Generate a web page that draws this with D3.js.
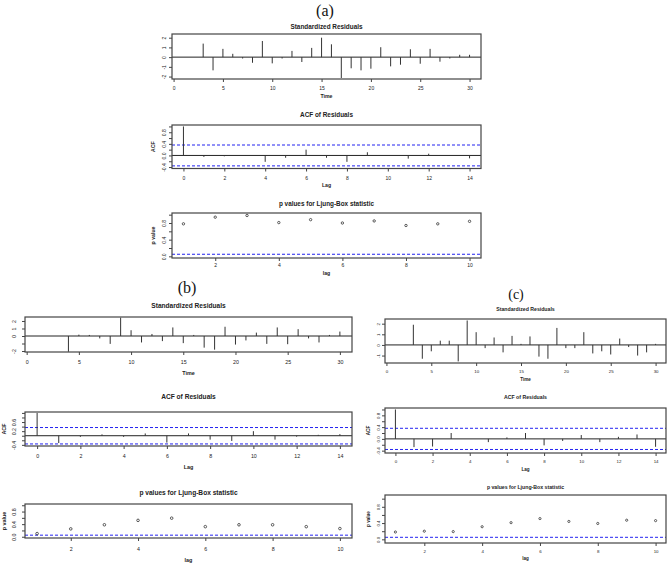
<!DOCTYPE html>
<html lang="en">
<head>
<meta charset="UTF-8">
<title>tsdiag</title>
<script src="https://cdn.jsdelivr.net/npm/d3@7"></script>
<style>
  body { margin: 0; background: #fff; }
  svg { display: block; font-family: "Liberation Sans", Arial, sans-serif; }
</style>
</head>
<body>
<svg id="svg"></svg>
<script>
// standardized residuals, time 1..30
const times = d3.range(1, 31);
const resA = [0, 0, 1.39, -1.36, 0.85, 0.34, -0.14, -0.58, 1.66, -0.64, -0.14, 0.64, -0.5, 0.95, 2.0, 1.32, -2.15, -1.15, -1.36, -1.19, 1.02, -0.95, -0.78, 0.81, -0.68, 0.85, -0.47, -0.14, 0.24, 0.24];
const resB = [0, 0, 0, -2.1, 0.18, 0.14, -0.32, -1.05, 2.45, 0.77, -0.86, 0.27, -0.68, 1.14, -0.95, 0.14, -1.55, -1.82, 1.23, -1.14, -0.59, 0.45, -1.05, 1.14, -1.09, 0.91, -0.32, -0.86, 0.14, 0.59];
const resC = [0, 0, 1.9, -1.3, -0.6, 0.4, 0.4, -1.55, 2.3, 1.2, -0.3, 0.7, -0.7, 0.85, 0.1, 0.8, -1.1, -1.3, 1.6, -0.3, -0.3, 1.2, -0.8, -0.6, -0.9, 0.6, -0.2, -1.0, -0.7, 0.1];

// ACF of residuals, lag 0..14
const lags = d3.range(0, 15);
const acfA = [1, -0.05, -0.03, 0.01, -0.22, -0.08, 0.2, -0.08, -0.22, 0.11, 0.01, -0.11, 0.06, 0.01, -0.1];
const acfB = [1, -0.32, -0.05, 0.06, -0.05, 0.1, -0.3, 0.1, -0.17, -0.23, 0.2, -0.17, -0.04, 0.04, 0.07];
const acfC = [1, -0.28, -0.26, 0.2, 0, -0.11, 0.05, 0.2, -0.22, -0.07, 0.13, -0.11, 0.07, 0.15, -0.27];

// Ljung-Box p values, lag 1..10
const pLags = d3.range(1, 11);
const pA = [0.78, 0.94, 0.98, 0.81, 0.88, 0.80, 0.85, 0.74, 0.78, 0.84];
const pB = [0.1, 0.25, 0.38, 0.52, 0.59, 0.32, 0.38, 0.38, 0.32, 0.26];
const pC = [0.18, 0.2, 0.19, 0.31, 0.41, 0.51, 0.44, 0.39, 0.47, 0.46];

const acfBound = 0.36;
const pBound = 0.05;

const timeTicks = [0, 5, 10, 15, 20, 25, 30];
const acfLagTicks = [0, 2, 4, 6, 8, 10, 12, 14];
const pLagTicks = [2, 4, 6, 8, 10];
const pTicks = [0, 0.2, 0.4, 0.6, 0.8, 1.0];
const pTickLabels = [0, 0.4, 0.8];

const width = 669, height = 578;
const svg = d3.select('#svg').attr('width', width).attr('height', height);

function fmt(f) {
    return d => d3.format(f)(d).replace('\u2212', '-');
}

function drawPlot(c) {
    const [x0, x1, y0, y1] = c.box;
    const x = d3.scaleLinear().domain(c.xDomain).range([x0, x1]);
    const y = d3.scaleLinear().domain(c.yDomain).range([y1, y0]);
    const g = svg.append('g');

    g.append('text')
        .attr('x', (x0 + x1) / 2).attr('y', c.titleY)
        .attr('text-anchor', 'middle').attr('dominant-baseline', 'middle')
        .attr('font-size', c.titleSize).attr('font-weight', 'bold').attr('fill', '#222')
        .text(c.title);

    // reference lines
    if (c.zero) {
        g.append('line').attr('x1', x0).attr('x2', x1)
            .attr('y1', y(0)).attr('y2', y(0))
            .attr('stroke', '#222').attr('stroke-width', 1);
    }
    c.hlines.forEach(h => {
        g.append('line').attr('x1', x0).attr('x2', x1)
            .attr('y1', y(h)).attr('y2', y(h))
            .attr('stroke', '#2323f0').attr('stroke-width', 1)
            .attr('stroke-dasharray', '3,2');
    });

    if (c.kind === 'h') {
        g.selectAll('line.bar').data(c.xs).enter().append('line')
            .attr('class', 'bar')
            .attr('x1', d => x(d)).attr('x2', d => x(d))
            .attr('y1', y(0)).attr('y2', (d, i) => y(c.ys[i]))
            .attr('stroke', '#333').attr('stroke-width', 1);
    } else {
        g.selectAll('circle').data(c.xs).enter().append('circle')
            .attr('cx', d => x(d)).attr('cy', (d, i) => y(c.ys[i]))
            .attr('r', c.r).attr('fill', 'none')
            .attr('stroke', '#333').attr('stroke-width', 0.8);
    }

    g.append('rect').attr('x', x0).attr('y', y0)
        .attr('width', x1 - x0).attr('height', y1 - y0)
        .attr('fill', 'none').attr('stroke', '#444').attr('stroke-width', 1.2);

    const xa = g.append('g').attr('transform', `translate(0,${y1})`)
        .call(d3.axisBottom(x).tickValues(c.xTicks).tickSize(3).tickFormat(fmt('d')));
    xa.select('.domain').remove();
    xa.selectAll('line').attr('stroke', '#444');
    xa.selectAll('text').attr('y', c.tickY - y1).attr('dy', '0.35em')
        .attr('font-size', c.tickSize).attr('font-family', null).attr('fill', '#222');

    const ya = g.append('g').attr('transform', `translate(${x0},0)`)
        .call(d3.axisLeft(y).tickValues(c.yTicks).tickSize(3)
            .tickFormat(d => c.yLabels.includes(d) ? fmt(c.yFmt)(d) : ''));
    ya.select('.domain').remove();
    ya.selectAll('line').attr('stroke', '#444');
    ya.selectAll('text').attr('x', 0).attr('dy', '0.35em')
        .attr('transform', `translate(${c.yTickX - x0},0) rotate(-90)`)
        .attr('text-anchor', 'middle')
        .attr('font-size', c.tickSize).attr('font-family', null).attr('fill', '#222');

    g.append('text')
        .attr('x', (x0 + x1) / 2).attr('y', c.xlabY)
        .attr('text-anchor', 'middle').attr('dominant-baseline', 'middle')
        .attr('font-size', c.labSize).attr('font-weight', 'bold').attr('fill', '#222')
        .text(c.xlab);
    if (c.ylab) {
        g.append('text')
            .attr('transform', `translate(${c.ylabX},${(y0 + y1) / 2}) rotate(-90)`)
            .attr('text-anchor', 'middle').attr('dominant-baseline', 'middle')
            .attr('font-size', c.labSize).attr('font-weight', 'bold').attr('fill', '#222')
            .text(c.ylab);
    }
}

function drawPanel(p) {
    svg.append('text')
        .attr('x', p.label[0]).attr('y', p.label[1])
        .attr('text-anchor', 'middle')
        .attr('font-family', '"Liberation Serif", "Times New Roman", serif')
        .attr('font-size', p.labelSize).attr('fill', '#111')
        .text(p.name);

    const common = { titleSize: p.titleSize, tickSize: p.tickSize, labSize: p.labSize, yTickX: p.yTickX, ylabX: p.ylabX };
    drawPlot(Object.assign({}, common, p.res, {
        title: 'Standardized Residuals', xlab: 'Time', ylab: null, kind: 'h', zero: true,
        xs: times, ys: p.resData, xDomain: [-0.16, 31.16], xTicks: timeTicks,
        yFmt: 'd', hlines: []
    }));
    drawPlot(Object.assign({}, common, p.acf, {
        title: 'ACF of Residuals', xlab: 'Lag', ylab: 'ACF', kind: 'h', zero: true,
        xs: lags, ys: p.acfData, xDomain: [-0.56, 14.56], xTicks: acfLagTicks,
        yFmt: '.1f', hlines: [acfBound, -acfBound]
    }));
    drawPlot(Object.assign({}, common, p.pv, {
        title: 'p values for Ljung-Box statistic', xlab: 'lag', ylab: 'p value', kind: 'p', zero: false,
        xs: pLags, ys: p.pData, xDomain: [0.64, 10.36], xTicks: pLagTicks,
        yTicks: pTicks, yLabels: pTickLabels, yFmt: '.1f', hlines: [pBound], r: p.r
    }));
}

drawPanel({
    name: '(a)', label: [325, 16], labelSize: 16,
    titleSize: 6.4, tickSize: 5, labSize: 5.2, yTickX: 164, ylabX: 154, r: 1.2,
    resData: resA, acfData: acfA, pData: pA,
    res: { box: [172, 481, 34, 79], titleY: 27, tickY: 88, xlabY: 97, yDomain: [-2.25, 2.38], yTicks: [-2, -1, 0, 1, 2], yLabels: [-2, -1, 0, 1, 2] },
    acf: { box: [172, 481, 125, 168.5], titleY: 115, tickY: 178, xlabY: 186, yDomain: [-0.45, 1.05], yTicks: [-0.4, -0.2, 0, 0.2, 0.4, 0.6, 0.8, 1.0], yLabels: [-0.4, 0, 0.4, 0.8] },
    pv: { box: [172, 481, 213, 258], titleY: 204, tickY: 265, xlabY: 274, yDomain: [-0.04, 1.04] }
});

drawPanel({
    name: '(b)', label: [187, 293], labelSize: 16,
    titleSize: 6.6, tickSize: 5.3, labSize: 5.4, yTickX: 14, ylabX: 5, r: 1.3,
    resData: resB, acfData: acfB, pData: pB,
    res: { box: [25, 352, 317, 352], titleY: 306, tickY: 362, xlabY: 374, yDomain: [-2.13, 2.53], yTicks: [-2, -1, 0, 1, 2], yLabels: [-2, 0, 1, 2] },
    acf: { box: [25, 352, 412, 446], titleY: 397, tickY: 456, xlabY: 468, yDomain: [-0.45, 1.04], yTicks: [-0.4, -0.2, 0, 0.2, 0.4, 0.6, 0.8, 1.0], yLabels: [-0.4, 0.2, 0.6] },
    pv: { box: [25, 352, 504, 538], titleY: 493, tickY: 549, xlabY: 561, yDomain: [-0.04, 1.04] }
});

drawPanel({
    name: '(c)', label: [516, 299], labelSize: 14,
    titleSize: 5.2, tickSize: 4.4, labSize: 4.6, yTickX: 378, ylabX: 369, r: 1.1,
    resData: resC, acfData: acfC, pData: pC,
    res: { box: [385, 666, 319, 363], titleY: 310, tickY: 371, xlabY: 380, yDomain: [-1.7, 2.44], yTicks: [-1, 0, 1, 2], yLabels: [-1, 0, 1, 2] },
    acf: { box: [385, 666, 408, 453], titleY: 398, tickY: 461, xlabY: 470, yDomain: [-0.48, 1.05], yTicks: [-0.4, -0.2, 0, 0.2, 0.4, 0.6, 0.8, 1.0], yLabels: [-0.4, 0, 0.4, 0.8] },
    pv: { box: [385, 666, 495, 543], titleY: 488, tickY: 551, xlabY: 559, yDomain: [-0.09, 1.09] }
});
</script>
</body>
</html>
